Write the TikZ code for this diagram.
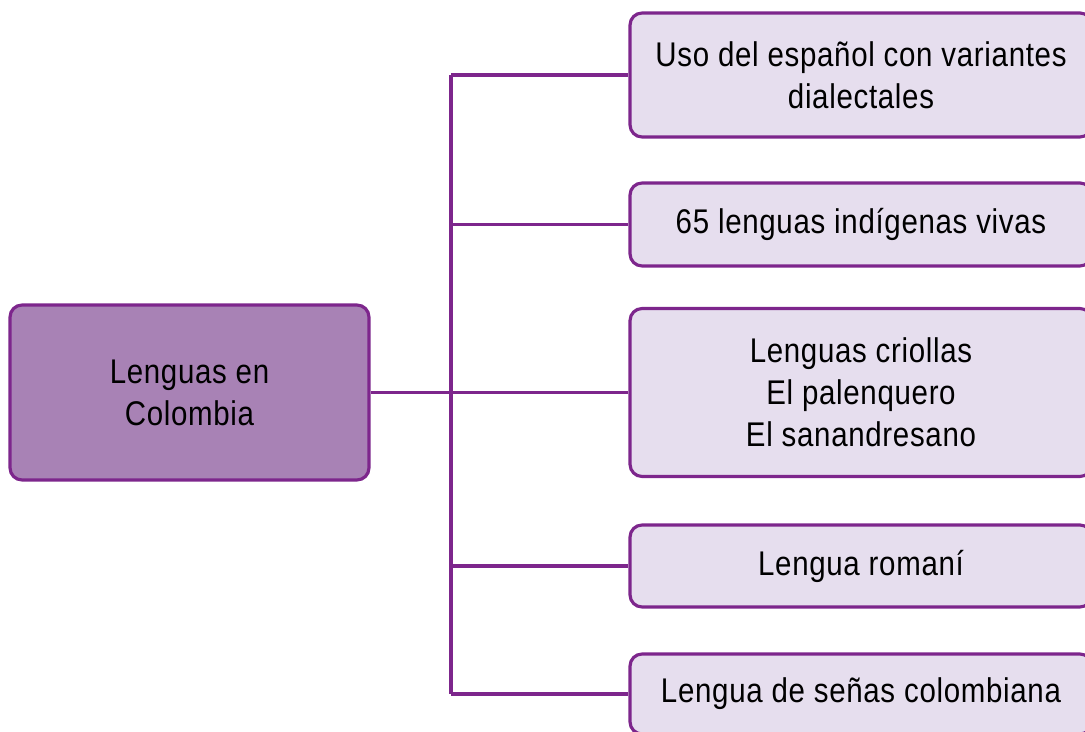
\documentclass[tikz,border=0pt]{standalone}
\usepackage{fontspec}
\setmainfont{Liberation Sans}[FakeStretch=0.86,LetterSpace=2]
\definecolor{edge}{RGB}{125,38,140}
\definecolor{darkfill}{RGB}{168,130,181}
\definecolor{lightfill}{RGB}{230,222,238}
\begin{document}
\begin{tikzpicture}[x=0.02cm,y=-0.02cm,
  box/.style={draw=edge,line width=1.8pt,rounded corners=0.24cm,align=center,
    font=\fontsize{19.5}{23.8}\selectfont,text=black,inner sep=0pt},
  rootbox/.style={box,fill=darkfill,minimum width=7.18cm,minimum height=3.5cm},
  leafbox/.style={box,fill=lightfill,minimum width=9.24cm},
  link/.style={draw=edge,line width=1.9pt}]
\useasboundingbox (0,0) rectangle (1085,732);
\clip (0,0) rectangle (1085,732);
\node[rootbox] (root) at (189.5,392.5) {Lenguas en\\Colombia};
\node[leafbox,minimum height=2.48cm] (b1) at (861,75) {Uso del español con variantes\\dialectales};
\node[leafbox,minimum height=1.66cm] (b2) at (861,224.5) {65 lenguas indígenas vivas};
\node[leafbox,minimum height=3.36cm] (b3) at (861,392.5) {Lenguas criollas\\El palenquero\\El sanandresano};
\node[leafbox,minimum height=1.64cm] (b4) at (861,566) {Lengua romaní};
\node[leafbox,minimum height=1.6cm] (b5) at (861,694) {Lengua de señas colombiana};
\coordinate (trunk) at (451,392);
\draw[link] (root.east) -- (trunk |- root.east) -- (b3.west);
\draw[link] (trunk |- b1.west) -- (trunk |- b5.west);
\draw[link] (trunk |- b1.west) -- (b1.west);
\draw[link] (trunk |- b2.west) -- (b2.west);
\draw[link] (trunk |- b4.west) -- (b4.west);
\draw[link] (trunk |- b5.west) -- (b5.west);
\end{tikzpicture}
\end{document}
